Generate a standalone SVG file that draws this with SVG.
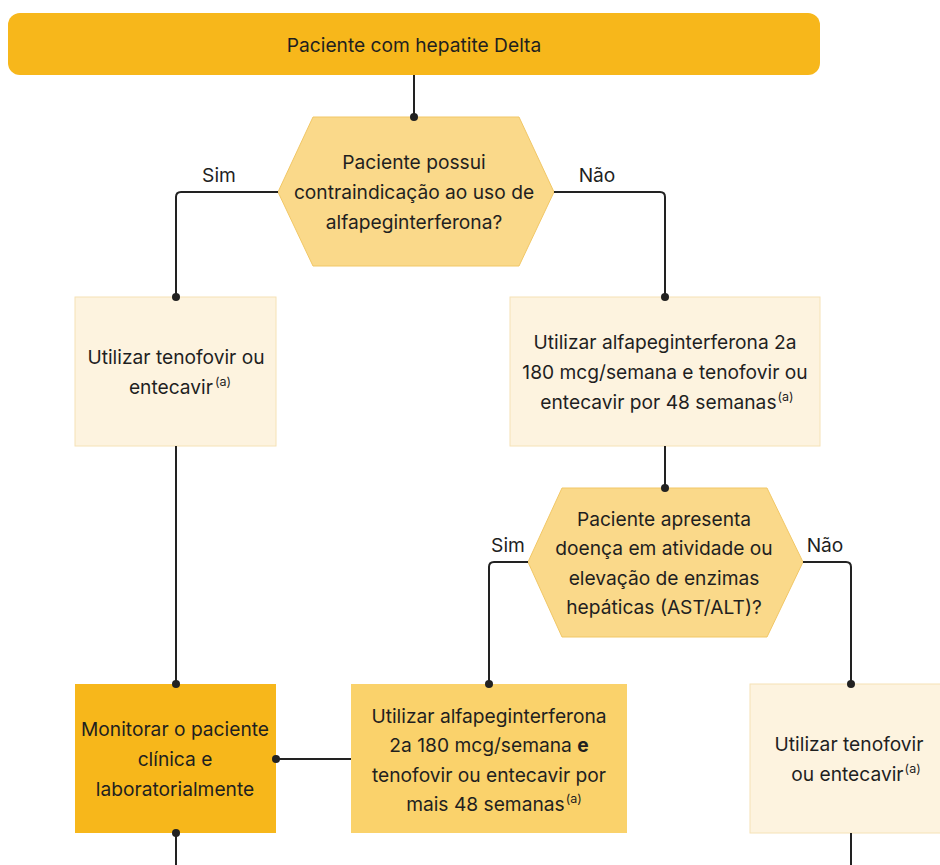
<svg xmlns="http://www.w3.org/2000/svg" width="940" height="865" viewBox="0 0 940 865">
<style>
text{font-family:Inter,"Noto Sans","Liberation Sans",sans-serif;font-size:19.2px;fill:#1f1f1f;text-anchor:middle}
.sup{font-size:12.5px}
.light{fill:#FDF3DF;stroke:#F5E2B6;stroke-width:1}
.hex{fill:#FAD98A;stroke:#F1C766;stroke-width:1}
.dark{fill:#F7B71B}
.mid{fill:#FAD26B}
.conn{fill:none;stroke:#222;stroke-width:2}
.dot{fill:#222}
</style>
<rect width="940" height="865" fill="#fff"/>
<g id="start">
<rect class="dark" x="8" y="13" width="812" height="62" rx="12"/>
<text x="414" y="52">Paciente com hepatite Delta</text>
</g>
<g id="q1">
<polygon class="hex" points="313,117 519,117 554,192 519,266 313,266 278,192"/>
<text x="414" y="169">Paciente possui</text>
<text x="414" y="199">contraindicação ao uso de</text>
<text x="414" y="229">alfapeginterferona?</text>
</g>
<g id="tenofovir1">
<rect class="light" x="75" y="297" width="201" height="149"/>
<text x="176" y="364">Utilizar tenofovir ou</text>
<text x="180" y="394">entecavir<tspan class="sup" dx="2" dy="-8">(a)</tspan></text>
</g>
<g id="alfa48">
<rect class="light" x="510" y="297" width="310" height="149"/>
<text x="665" y="349">Utilizar alfapeginterferona 2a</text>
<text x="665" y="379">180 mcg/semana e tenofovir ou</text>
<text x="667" y="409">entecavir por 48 semanas<tspan class="sup" dx="1" dy="-8">(a)</tspan></text>
</g>
<g id="q2">
<polygon class="hex" points="562,488 767,488 803,562 767,637 562,637 528,562"/>
<text x="664" y="526">Paciente apresenta</text>
<text x="664" y="555">doença em atividade ou</text>
<text x="664" y="585">elevação de enzimas</text>
<text x="664" y="614">hepáticas (AST/ALT)?</text>
</g>
<g id="monitor">
<rect class="dark" x="75" y="684" width="201" height="149"/>
<text x="175" y="736">Monitorar o paciente</text>
<text x="175" y="766">clínica e</text>
<text x="175" y="796">laboratorialmente</text>
</g>
<g id="alfa96">
<rect class="mid" x="351" y="684" width="276" height="149"/>
<text x="489" y="723">Utilizar alfapeginterferona</text>
<text x="489" y="752">2a 180 mcg/semana <tspan font-weight="bold">e</tspan></text>
<text x="489" y="782">tenofovir ou entecavir por</text>
<text x="494" y="811">mais 48 semanas<tspan class="sup" dx="1" dy="-8">(a)</tspan></text>
</g>
<g id="tenofovir2">
<rect class="light" x="750" y="684" width="200" height="149"/>
<text x="849" y="751">Utilizar tenofovir</text>
<text x="856" y="781">ou entecavir<tspan class="sup" dx="1" dy="-8">(a)</tspan></text>
</g>
<g id="connectors">
<path class="conn" d="M414 75V117"/>
<path class="conn" d="M278 192H181Q176 192 176 197V297"/>
<path class="conn" d="M554 192H660Q665 192 665 197V297"/>
<path class="conn" d="M176 446V684"/>
<path class="conn" d="M665 446V488"/>
<path class="conn" d="M528 562H494Q489 562 489 567V684"/>
<path class="conn" d="M803 562H846Q851 562 851 567V684"/>
<path class="conn" d="M351 759H276"/>
<path class="conn" d="M176 833V865"/>
<path class="conn" d="M851 833V865"/>
<circle class="dot" cx="414" cy="117" r="4"/>
<circle class="dot" cx="176" cy="297" r="4"/>
<circle class="dot" cx="665" cy="297" r="4"/>
<circle class="dot" cx="665" cy="488" r="4"/>
<circle class="dot" cx="489" cy="684" r="4"/>
<circle class="dot" cx="851" cy="684" r="4"/>
<circle class="dot" cx="176" cy="684" r="4"/>
<circle class="dot" cx="176" cy="833" r="4"/>
<circle class="dot" cx="276" cy="759" r="4"/>
<text x="219" y="182">Sim</text>
<text x="597" y="182">Não</text>
<text x="508" y="552">Sim</text>
<text x="825" y="552">Não</text>
</g>
</svg>
